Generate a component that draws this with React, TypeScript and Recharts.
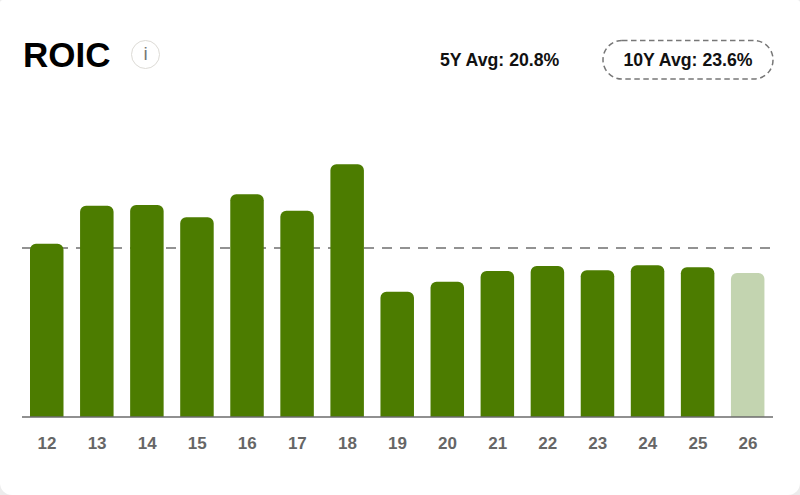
import { Bar, BarChart, Cell, ReferenceLine, XAxis, YAxis } from "recharts"

const years = ["12", "13", "14", "15", "16", "17", "18", "19", "20", "21", "22", "23", "24", "25", "26"]
const roic = [24.2, 29.5, 29.6, 27.9, 31.1, 28.8, 35.3, 17.5, 18.9, 20.4, 21.1, 20.5, 21.2, 20.9, 20.1]
const forecastYears = ["26"]
const tenYearAvg = 23.6

const data = years.map((year, i) => ({ year, roic: roic[i] }))

const font = "'Liberation Sans', Arial, sans-serif"

export default function App() {
  return (
    <div style={{ position: "absolute", left: 0, top: 0, width: 800, height: 495, background: "#ececec", overflow: "hidden" }}>
      <div style={{ position: "absolute", left: 0, top: 0, width: 800, height: 495, background: "#fff", borderRadius: "3px 3px 12px 12px", fontFamily: font }}>
        <BarChart
          width={800}
          height={495}
          data={data}
          margin={{ top: 130.6, right: 27, left: 22, bottom: 0 }}
          barSize={33.5}
        >
          <YAxis hide domain={[0, 40]} />
          <XAxis
            dataKey="year"
            height={78}
            tickLine={false}
            tickMargin={14}
            axisLine={{ stroke: "#6b6b6b", strokeWidth: 1.5 }}
            tick={{ fill: "#666666", fontSize: 17, fontWeight: 700, fontFamily: font }}
            interval={0}
          />
          <ReferenceLine y={tenYearAvg} stroke="#6f6f6f" strokeWidth={1.5} strokeDasharray="10 8" zIndex={100} />
          <Bar dataKey="roic" radius={[6, 6, 0, 0]} isAnimationActive={false}>
            {data.map((d) => (
              <Cell key={d.year} fill={forecastYears.includes(d.year) ? "#c3d4b0" : "#4c7c00"} />
            ))}
          </Bar>
        </BarChart>

        <div style={{ position: "absolute", left: 23, top: 34, fontSize: 35, lineHeight: "42px", fontWeight: 700, color: "#000" }}>ROIC</div>
        <div
          style={{
            position: "absolute",
            left: 131,
            top: 40,
            width: 29,
            height: 29,
            boxSizing: "border-box",
            border: "1.5px solid #dddbd6",
            borderRadius: "50%",
            textAlign: "center",
            fontSize: 19,
            lineHeight: "26px",
            color: "#777",
          }}
        >
          i
        </div>
        <div style={{ position: "absolute", left: 440, top: 50, fontSize: 17.7, lineHeight: "20px", fontWeight: 700, color: "#111" }}>5Y Avg: 20.8%</div>
        <svg style={{ position: "absolute", left: 600, top: 38 }} width={178} height={44}>
          <rect x={3} y={2.5} width={170} height={38.5} rx={19} fill="none" stroke="#777" strokeWidth={1.5} strokeDasharray="5.5 3.5" />
        </svg>
        <div style={{ position: "absolute", left: 603, top: 50, width: 170, textAlign: "center", fontSize: 17.7, lineHeight: "20px", fontWeight: 700, color: "#111" }}>
          10Y Avg: 23.6%
        </div>
      </div>
    </div>
  )
}
